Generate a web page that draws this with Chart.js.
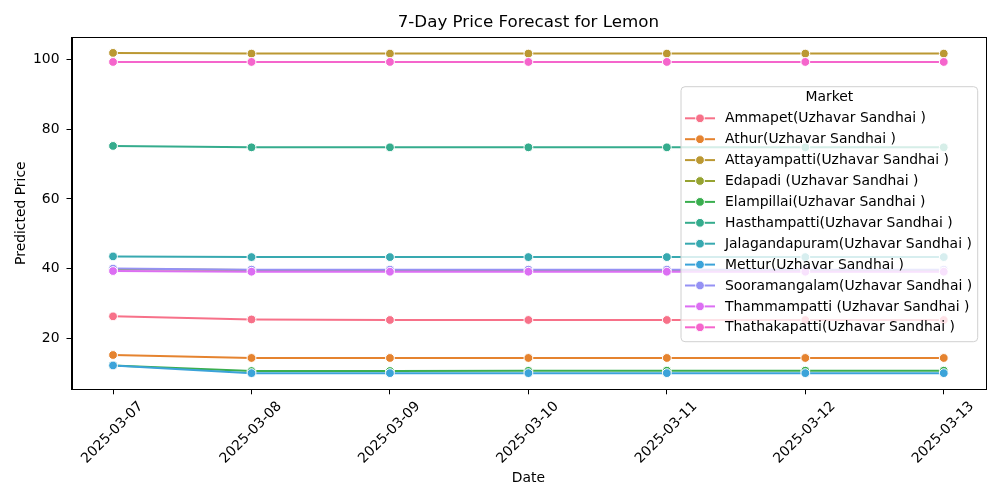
<!DOCTYPE html>
<html>
<head>
<meta charset="utf-8">
<script src="https://cdn.jsdelivr.net/npm/chart.js@4"></script>
<style>
html,body{margin:0;padding:0;background:#fff;}
#wrap{width:1000px;height:500px;}
</style>
</head>
<body>
<div id="wrap"><canvas id="c" width="1000" height="500"></canvas></div>
<script>
const dates = ['2025-03-07','2025-03-08','2025-03-09','2025-03-10','2025-03-11','2025-03-12','2025-03-13'];
const markets = [
  'Ammapet(Uzhavar Sandhai )',
  'Athur(Uzhavar Sandhai )',
  'Attayampatti(Uzhavar Sandhai )',
  'Edapadi (Uzhavar Sandhai )',
  'Elampillai(Uzhavar Sandhai )',
  'Hasthampatti(Uzhavar Sandhai )',
  'Jalagandapuram(Uzhavar Sandhai )',
  'Mettur(Uzhavar Sandhai )',
  'Sooramangalam(Uzhavar Sandhai )',
  'Thammampatti (Uzhavar Sandhai )',
  'Thathakapatti(Uzhavar Sandhai )'
];
const ammapet        = [26.3, 25.4, 25.25, 25.25, 25.25, 25.25, 25.25];
const athur          = [15.2, 14.35, 14.35, 14.35, 14.35, 14.35, 14.35];
const attayampatti   = [101.9, 101.7, 101.7, 101.7, 101.7, 101.7, 101.7];
const edapadi        = [39.8, 39.6, 39.6, 39.6, 39.6, 39.6, 39.6];
const elampillai     = [12.2, 10.6, 10.6, 10.65, 10.7, 10.7, 10.7];
const hasthampatti   = [75.2, 74.8, 74.8, 74.8, 74.8, 74.8, 74.8];
const jalagandapuram = [43.5, 43.3, 43.3, 43.3, 43.3, 43.3, 43.3];
const mettur         = [12.2, 10.0, 10.0, 10.0, 10.0, 10.0, 10.0];
const sooramangalam  = [40.0, 39.7, 39.7, 39.7, 39.7, 39.7, 39.7];
const thammampatti   = [39.3, 39.1, 39.1, 39.1, 39.1, 39.1, 39.1];
const thathakapatti  = [99.3, 99.3, 99.3, 99.3, 99.3, 99.3, 99.3];
const yTicks = [20, 40, 60, 80, 100];

const seriesValues = [ammapet, athur, attayampatti, edapadi, elampillai, hasthampatti,
  jalagandapuram, mettur, sooramangalam, thammampatti, thathakapatti];
const colors = ['#f77189','#e5832f','#bb9832','#96a331','#3aae4f','#35ac8d',
  '#38a9b0','#3ba3d9','#9591f4','#dc6ef3','#f565cc'];

const FONT = 'DejaVu Sans';
const n = markets.length;
const datasets = markets.map((m, i) => ({
  label: m,
  data: seriesValues[i].map((v, j) => ({x: j, y: v})),
  borderColor: colors[i],
  backgroundColor: colors[i],
  borderWidth: 2,
  pointRadius: 4.4,
  pointBorderColor: '#ffffff',
  pointBorderWidth: 1,
  pointBackgroundColor: colors[i],
  tension: 0,
  order: n - i
}));

const decor = {
  id: 'decor',
  afterDatasetsDraw(chart) {
    const ctx = chart.ctx;
    const a = chart.chartArea;
    ctx.save();
    // frame
    ctx.strokeStyle = '#000';
    ctx.lineWidth = 1;
    ctx.strokeRect(Math.round(a.left) + 0.5, Math.round(a.top) + 0.5,
      Math.round(a.right - a.left), Math.round(a.bottom - a.top));
    // title
    ctx.fillStyle = '#000';
    ctx.font = '16.7px "' + FONT + '"';
    ctx.textAlign = 'center';
    ctx.textBaseline = 'middle';
    ctx.fillText('7-Day Price Forecast for Lemon', (a.left + a.right) / 2, 22.5);
    // legend
    const bx = 681, by = 86.7, bw = 296.7, bh = 255;
    const r = 4;
    ctx.beginPath();
    ctx.moveTo(bx + r, by);
    ctx.lineTo(bx + bw - r, by);
    ctx.arcTo(bx + bw, by, bx + bw, by + r, r);
    ctx.lineTo(bx + bw, by + bh - r);
    ctx.arcTo(bx + bw, by + bh, bx + bw - r, by + bh, r);
    ctx.lineTo(bx + r, by + bh);
    ctx.arcTo(bx, by + bh, bx, by + bh - r, r);
    ctx.lineTo(bx, by + r);
    ctx.arcTo(bx, by, bx + r, by, r);
    ctx.closePath();
    ctx.fillStyle = 'rgba(255,255,255,0.8)';
    ctx.fill();
    ctx.strokeStyle = '#d0d0d0';
    ctx.lineWidth = 1;
    ctx.stroke();
    ctx.font = '13.9px "' + FONT + '"';
    ctx.fillStyle = '#000';
    ctx.textAlign = 'center';
    ctx.fillText('Market', bx + bw / 2, 97.5);
    ctx.textAlign = 'left';
    chart.data.datasets.forEach((ds, i) => {
      const y = 118.3 + i * 20.9;
      ctx.strokeStyle = ds.borderColor;
      ctx.lineWidth = 2;
      ctx.beginPath();
      ctx.moveTo(685, y);
      ctx.lineTo(715, y);
      ctx.stroke();
      ctx.beginPath();
      ctx.arc(700, y, 4.4, 0, Math.PI * 2);
      ctx.fillStyle = ds.borderColor;
      ctx.fill();
      ctx.strokeStyle = '#fff';
      ctx.lineWidth = 1;
      ctx.stroke();
      ctx.fillStyle = '#000';
      ctx.fillText(ds.label, 725, y + 0.5);
    });
    ctx.restore();
  }
};

Chart.defaults.font.family = FONT;
Chart.defaults.color = '#000';

new Chart(document.getElementById('c'), {
  type: 'line',
  data: { datasets },
  options: {
    responsive: false,
    animation: false,
    devicePixelRatio: 1,
    layout: { padding: { top: 37, right: 14.7, left: 0, bottom: 0 } },
    plugins: { legend: { display: false }, tooltip: { enabled: false }, title: { display: false } },
    scales: {
      x: {
        type: 'linear',
        min: -0.3,
        max: 6.3,
        afterFit(s) { s.height = 110.7; },
        afterBuildTicks(s) { s.ticks = dates.map((d, i) => ({ value: i })); },
        ticks: {
          autoSkip: false,
          minRotation: 45,
          maxRotation: 45,
          labelOffset: 28,
          padding: 4,
          font: { size: 13.9 },
          callback: (v) => dates[v]
        },
        grid: { display: true, drawOnChartArea: false, drawTicks: true, tickLength: 5, color: '#000', tickWidth: 1 },
        border: { display: true, color: '#000', width: 1 },
        title: { display: true, text: 'Date', font: { size: 13.9 }, padding: { top: 0, bottom: 13.6 } }
      },
      y: {
        type: 'linear',
        min: 5.36,
        max: 106.46,
        afterFit(s) { s.width = 71.5; },
        afterBuildTicks(s) { s.ticks = yTicks.map(v => ({ value: v })); },
        ticks: { padding: 7, font: { size: 13.9 } },
        grid: { display: true, drawOnChartArea: false, drawTicks: true, tickLength: 5, color: '#000', tickWidth: 1 },
        border: { display: true, color: '#000', width: 1 },
        title: { display: true, text: 'Predicted Price', font: { size: 13.9 }, padding: { top: 12.6, bottom: 0 } }
      }
    }
  },
  plugins: [decor]
});
</script>
</body>
</html>
